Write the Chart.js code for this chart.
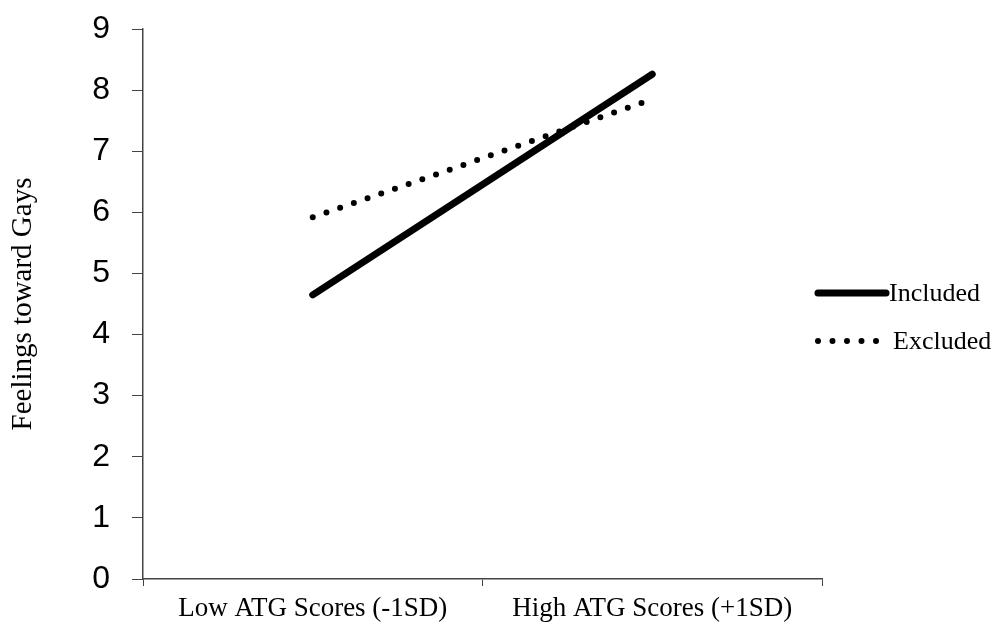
<!DOCTYPE html>
<html>
<head>
<meta charset="utf-8">
<script src="https://cdn.jsdelivr.net/npm/chart.js@4"></script>
<style>
  html, body { margin: 0; padding: 0; background: #fff; }
  #wrap { width: 1001px; height: 635px; }
</style>
</head>
<body>
<div id="wrap"><canvas id="grafik"></canvas></div>
<script>
const categories = ['Low ATG Scores (-1SD)', 'High ATG Scores (+1SD)'];
const included = [4.65, 8.26];
const excluded = [5.92, 7.85];
const yTicks = [0, 1, 2, 3, 4, 5, 6, 7, 8, 9];
const seriesNames = ['Included', 'Excluded'];

// legend drawn by hand to the right of the plot, like the original
const sideLegend = {
  id: 'sideLegend',
  afterDraw(chart) {
    const ctx = chart.ctx;
    const rows = [
      { y: 293, x0: 818, x1: 886, tx: 889, ds: chart.data.datasets[0] },
      { y: 341, x0: 818, x1: 880, tx: 893, ds: chart.data.datasets[1] }
    ];
    ctx.save();
    rows.forEach(r => {
      ctx.beginPath();
      ctx.strokeStyle = '#000';
      ctx.lineWidth = r.ds.borderWidth;
      ctx.lineCap = 'round';
      ctx.setLineDash(r.ds.borderDash || []);
      ctx.moveTo(r.x0, r.y);
      ctx.lineTo(r.x1, r.y);
      ctx.stroke();
      ctx.setLineDash([]);
      ctx.fillStyle = '#000';
      ctx.font = '26px "Liberation Serif"';
      ctx.textBaseline = 'middle';
      ctx.fillText(r.ds.label, r.tx, r.y + 1);
    });
    ctx.restore();
  }
};

new Chart(
  document.getElementById('grafik'),
  {
    type: 'line',
    data: {
      labels: categories,
      datasets: [
        {
          label: seriesNames[0],
          data: included,
          borderColor: '#000',
          borderWidth: 7,
          borderCapStyle: 'round',
          pointRadius: 0,
          tension: 0
        },
        {
          label: seriesNames[1],
          data: excluded,
          borderColor: '#000',
          borderWidth: 6,
          borderDash: [0, 14.5],
          borderCapStyle: 'round',
          pointRadius: 0,
          tension: 0
        }
      ]
    },
    options: {
      responsive: true,
      maintainAspectRatio: false,
      animation: false,
      layout: { padding: { left: 0, right: 179, top: 29, bottom: 0 } },
      plugins: {
        legend: { display: false },
        tooltip: { enabled: false }
      },
      scales: {
        x: {
          offset: true,
          afterFit: s => { s.height = 56; s.paddingLeft = 0; s.paddingRight = 0; },
          grid: {
            offset: true,
            drawOnChartArea: false,
            tickLength: 7,
            color: '#444'
          },
          border: { color: '#444', width: 1.5 },
          ticks: {
            color: '#000',
            padding: 7,
            maxRotation: 0,
            font: { family: 'Liberation Serif', size: 27 }
          }
        },
        y: {
          min: 0,
          max: 9,
          afterFit: s => { s.width = 143; s.paddingTop = 0; s.paddingBottom = 0; },
          afterBuildTicks: s => { s.ticks = yTicks.map(v => ({ value: v })); },
          grid: {
            drawOnChartArea: false,
            tickLength: 11,
            color: '#444'
          },
          border: { color: '#444', width: 1.5 },
          ticks: {
            color: '#000',
            padding: 22,
            font: { family: 'Liberation Sans', size: 32 }
          },
          title: {
            display: true,
            text: 'Feelings toward Gays',
            color: '#000',
            padding: { top: 6, bottom: 0 },
            font: { family: 'Liberation Serif', size: 29 }
          }
        }
      }
    },
    plugins: [sideLegend]
  }
);
</script>
</body>
</html>
